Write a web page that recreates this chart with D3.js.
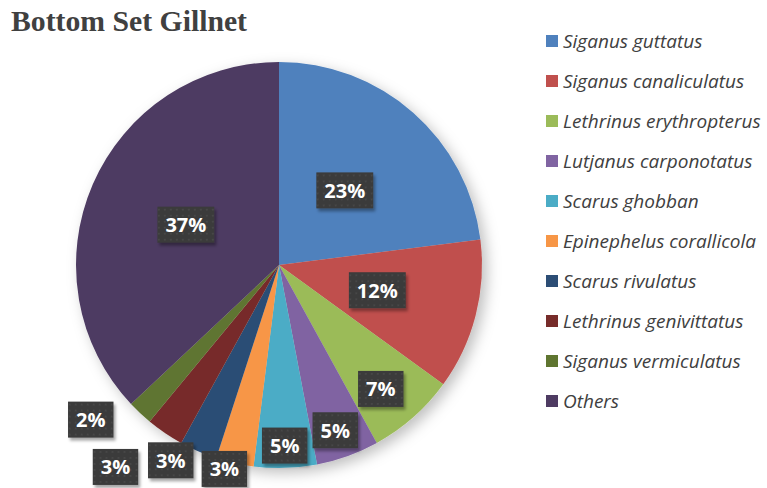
<!DOCTYPE html>
<html>
<head>
<meta charset="utf-8">
<script src="https://cdn.jsdelivr.net/npm/d3@7"></script>
<style>
  body { margin: 0; background: #fff; }
  svg { display: block; }
</style>
</head>
<body>
<svg id="vis"></svg>
<script>
const species = ['Siganus guttatus', 'Siganus canaliculatus', 'Lethrinus erythropterus',
    'Lutjanus carponotatus', 'Scarus ghobban', 'Epinephelus corallicola',
    'Scarus rivulatus', 'Lethrinus genivittatus', 'Siganus vermiculatus', 'Others'];
const shares = [23, 12, 7, 5, 5, 3, 3, 3, 2, 37];
const colours = ['#4F81BD', '#C0504D', '#9BBB59', '#8064A2', '#4BACC6',
    '#F79646', '#2C4D75', '#772C2A', '#5F7530', '#4E3B62'];

// where each data label sits: distance from centre (share of radius) and angle nudge (deg)
const labelRadius = [0.49, 0.50, 0.79, 0.86, 0.89, 1.04, 1.10, 1.28, 1.20, 0.50];
const labelNudge = [0, 0, 2, 1, 0, 2.4, 5.6, 4.8, 7.4, 0];

var width = 767, height = 488;
var cx = 279, cy = 265, radius = 203;

var svg = d3.select('#vis').attr('width', width).attr('height', height);
var defs = svg.append('defs');

var pieShadow = defs.append('filter').attr('id', 'pieShadow')
    .attr('x', '-20%').attr('y', '-20%').attr('width', '140%').attr('height', '140%');
pieShadow.append('feDropShadow').attr('dx', 5).attr('dy', 5)
    .attr('stdDeviation', 7).attr('flood-color', '#000').attr('flood-opacity', 0.25);

var boxShadow = defs.append('filter').attr('id', 'boxShadow')
    .attr('x', '-30%').attr('y', '-30%').attr('width', '160%').attr('height', '160%');
boxShadow.append('feDropShadow').attr('dx', 2).attr('dy', 3)
    .attr('stdDeviation', 1.5).attr('flood-color', '#000').attr('flood-opacity', 0.35);

var dots = defs.append('pattern').attr('id', 'dots').attr('patternUnits', 'userSpaceOnUse')
    .attr('width', 6).attr('height', 6);
dots.append('rect').attr('width', 6).attr('height', 6).attr('fill', '#3a3a3a');
dots.append('circle').attr('cx', 3).attr('cy', 3).attr('r', 0.8).attr('fill', '#555');

// title
svg.append('text').attr('x', 11).attr('y', 31)
    .attr('font-family', '"Liberation Serif", serif').attr('font-weight', 'bold')
    .attr('font-size', 29).attr('fill', '#404040')
    .attr('textLength', 236).attr('lengthAdjust', 'spacingAndGlyphs')
    .text('Bottom Set Gillnet');

// pie
var pie = d3.pie().sort(null).value(d => d);
var arcs = pie(shares);
var arc = d3.arc().innerRadius(0).outerRadius(radius);

var chart = svg.append('g').attr('transform', 'translate(' + cx + ',' + cy + ')');
chart.append('g').attr('filter', 'url(#pieShadow)')
    .selectAll('path').data(arcs).enter().append('path')
    .attr('d', arc).attr('fill', (d, i) => colours[i]);

// data labels
var labels = chart.append('g').selectAll('g').data(arcs).enter().append('g')
    .attr('transform', function(d, i) {
        var a = (d.startAngle + d.endAngle) / 2 + labelNudge[i] * Math.PI / 180;
        var r = labelRadius[i] * radius;
        return 'translate(' + (r * Math.sin(a)) + ',' + (-r * Math.cos(a)) + ')';
    });

labels.each(function(d) {
    var g = d3.select(this);
    var rect = g.append('rect').attr('fill', 'url(#dots)').attr('filter', 'url(#boxShadow)');
    var t = g.append('text').attr('text-anchor', 'middle').attr('y', 7.5)
        .attr('font-family', '"Open Sans", sans-serif').attr('font-weight', 'bold')
        .attr('font-size', 20).attr('fill', '#fff')
        .text(d.data + '%');
    var w = t.node().getComputedTextLength() + 16;
    rect.attr('x', -w / 2).attr('y', -18).attr('width', w).attr('height', 36);
});

// legend
var legend = svg.append('g').selectAll('g').data(species).enter().append('g')
    .attr('transform', (d, i) => 'translate(546,' + (41 + i * 40) + ')');
legend.append('rect').attr('x', 0).attr('y', -6).attr('width', 12).attr('height', 12)
    .attr('fill', (d, i) => colours[i]);
legend.append('text').attr('x', 17).attr('y', 6.5)
    .attr('font-family', '"Open Sans", sans-serif').attr('font-style', 'italic')
    .attr('font-size', 19).attr('fill', '#404040')
    .text(d => d);
</script>
</body>
</html>
